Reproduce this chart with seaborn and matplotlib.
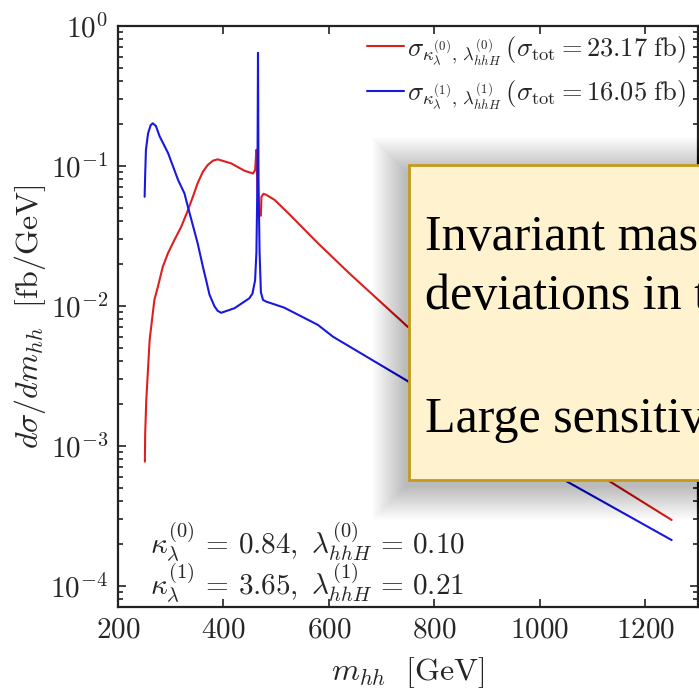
import pandas as pd
import matplotlib
matplotlib.use("Agg")
import matplotlib.pyplot as plt
import seaborn as sns
from matplotlib.patches import Rectangle

sns.set_style("ticks")
plt.rcParams["font.family"] = "serif"
plt.rcParams["font.serif"] = ["cmr10"]
plt.rcParams["mathtext.fontset"] = "cm"
plt.rcParams["axes.formatter.use_mathtext"] = True

# ----------------------------------------------------------
# data (m_hh in GeV, dsigma/dm_hh in fb/GeV)
# ----------------------------------------------------------
mhh_red = [251, 251.5, 253.6, 260, 269, 275.7, 285, 294.7, 307, 320, 332.5, 342,
           351, 361, 370, 380, 389, 414.5, 440, 456, 460, 462.5, 464.5, 466.5,
           471, 472, 476, 481, 497, 525, 579, 639, 749, 1128, 1250]
dsig_red = [7.7e-4, 1.2e-3, 2.1e-3, 5.7e-3, 0.011, 0.0137, 0.019, 0.0237, 0.0295,
            0.0367, 0.048, 0.060, 0.075, 0.0906, 0.101, 0.1086, 0.111, 0.104,
            0.092, 0.088, 0.093, 0.13, 0.07, 0.044, 0.044, 0.060, 0.063, 0.062,
            0.057, 0.045, 0.028, 0.017, 0.0071, 5.7e-4, 2.95e-4]

mhh_blue = [250.5, 251.5, 253, 257, 262, 266, 272, 279, 295, 314, 326, 332.5,
            351, 361, 367, 373.5, 383, 389, 395.6, 421, 449, 455, 460, 462.5,
            464.5, 465.5, 466.5, 468.5, 471, 475, 481, 515, 579, 608, 749, 1046,
            1250]
dsig_blue = [0.060, 0.085, 0.13, 0.17, 0.195, 0.201, 0.192, 0.162, 0.123, 0.079,
             0.0635, 0.051, 0.028, 0.019, 0.0153, 0.012, 0.0099, 0.0092, 0.0089,
             0.0096, 0.0113, 0.0122, 0.0152, 0.024, 0.08, 0.64, 0.08, 0.024,
             0.0125, 0.011, 0.0107, 0.0097, 0.0073, 0.0060, 0.0029, 5.7e-4,
             2.12e-4]

labels = [
    r"$\sigma_{\kappa_\lambda^{(0)},\,\lambda_{hhH}^{(0)}}\,(\sigma_{\mathrm{tot}}=23.17\ \mathrm{fb})$",
    r"$\sigma_{\kappa_\lambda^{(1)},\,\lambda_{hhH}^{(1)}}\,(\sigma_{\mathrm{tot}}=16.05\ \mathrm{fb})$",
]
cores = ["#dd1f1f", "#1818e0"]

df = pd.concat([
    pd.DataFrame({"mhh": mhh_red, "dsig": dsig_red, "serie": labels[0]}),
    pd.DataFrame({"mhh": mhh_blue, "dsig": dsig_blue, "serie": labels[1]}),
])

# ----------------------------------------------------------
# figura
# ----------------------------------------------------------
fig = plt.figure(figsize=(6.99, 6.89), dpi=100)
ax = fig.add_axes([118 / 699, 1 - 607 / 689, 580 / 699, 581.3 / 689])

sns.lineplot(data=df, x="mhh", y="dsig", hue="serie", palette=cores,
             estimator=None, sort=False, linewidth=1.5, ax=ax)

ax.set_yscale("log")
ax.set_xlim(200, 1300)
ax.set_ylim(7.05e-5, 1)
ax.set_xticks([200, 400, 600, 800, 1000, 1200])
ax.tick_params(which="both", direction="in", top=True, right=True, width=1.2,
               color="#222222", labelsize=21, pad=7)
ax.tick_params(which="major", length=6)
ax.tick_params(which="minor", length=3.5)
for sp in ax.spines.values():
    sp.set_linewidth(1.6)
    sp.set_color("#222222")

ax.set_xlabel(r"$m_{hh}\ \ [\mathrm{GeV}]$", fontsize=23, labelpad=9)
ax.set_ylabel(r"$d\sigma/dm_{hh}\ \ [\mathrm{fb/GeV}]$", fontsize=23, labelpad=2)

handles, _ = ax.get_legend_handles_labels()
ax.legend(handles, labels, loc="upper right", frameon=False, fontsize=19,
          bbox_to_anchor=(686 / 699, 1 - 34 / 689), bbox_transform=fig.transFigure,
          borderaxespad=0, borderpad=0, handlelength=1.4, handletextpad=0.1,
          labelspacing=0.45)

ax.text(0.055, 0.110, r"$\kappa_\lambda^{(0)}\,=\,0.84,\ \lambda_{hhH}^{(0)}\,=\,0.10$",
        transform=ax.transAxes, fontsize=21, va="center", ha="left")
ax.text(0.055, 0.040, r"$\kappa_\lambda^{(1)}\,=\,3.65,\ \lambda_{hhH}^{(1)}\,=\,0.21$",
        transform=ax.transAxes, fontsize=21, va="center", ha="left")

# ----------------------------------------------------------
# caixa amarela do slide (com sombra)
# ----------------------------------------------------------
bx0, by0 = 409 / 699, 1 - 480 / 689
bw, bh = 0.5, 315 / 689
for k in range(34, 0, -1):
    dx = k / 699
    dy = k / 689
    fig.add_artist(Rectangle((bx0 - dx - 3 / 699, by0 - dy - 6 / 689), bw + 2 * dx,
                             bh + 2 * dy, transform=fig.transFigure,
                             facecolor="black", edgecolor="none", alpha=0.009,
                             zorder=4))
fig.add_artist(Rectangle((bx0, by0), bw, bh, transform=fig.transFigure,
                         facecolor="#fff2cf", edgecolor="#c49a1c", linewidth=2,
                         zorder=5))

fonte_caixa = dict(family="Liberation Serif", fontsize=36, color="black",
                   va="baseline", ha="left", zorder=6)
fig.text(425 / 699, 1 - 250 / 689, "Invariant mass distribution", **fonte_caixa)
fig.text(425 / 699, 1 - 309 / 689, "deviations in the couplings", **fonte_caixa)
fig.text(425 / 699, 1 - 432 / 689, "Large sensitivity", **fonte_caixa)

fig.savefig("out.png", dpi=100)
